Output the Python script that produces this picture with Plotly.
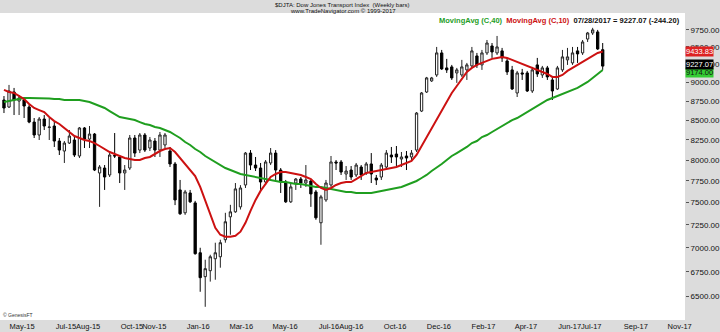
import math
import pandas as pd
import plotly.graph_objects as go

# ---------------- data (weekly bars) ----------------
first_week = "2015-04-17"
n_weeks = 120
dates = pd.date_range(first_week, periods=n_weeks, freq="W-FRI")

opens = [8764, 8671, 8871, 8751, 8764, 8671, 8475, 8310, 8514, 8405,
         8424, 8234, 8110, 8209, 8247, 8049, 8399, 8259, 8322, 7844,
         7903, 7820, 8055, 8037, 7844, 7903, 8272, 8122, 8310, 8147,
         8234, 8122, 8185, 8110, 7952, 7644, 7383, 7609, 7495, 6948,
         6700, 6761, 6885, 6906, 7087, 7338, 7394, 7450, 7702, 8085,
         7939, 7903, 7737, 7964, 8085, 7879, 7737, 7507, 7725, 7772,
         7725, 7749, 7621, 7272, 7529, 7702, 7976, 7976, 7832, 7879,
         7820, 7915, 7844, 7952, 7784, 7796, 7915, 8061, 8073, 8012,
         8049, 8037, 8122, 8618, 8871, 9022, 9104, 9414, 9202, 9216,
         9132, 9104, 9174, 9230, 9371, 9244, 9414, 9514, 9414, 9443,
         9300, 9174, 8858, 9132, 9132, 8885, 9244, 9104, 9202, 9035,
         8912, 9174, 9315, 9272, 9443, 9414, 9615, 9704, 9719, 9460]
highs = [8817, 8967, 8926, 8830, 8804, 8700, 8527, 8540, 8566, 8527,
         8475, 8272, 8234, 8373, 8310, 8411, 8411, 8424, 8335, 7939,
         7939, 8098, 8335, 8061, 7939, 8310, 8310, 8335, 8335, 8285,
         8272, 8348, 8335, 8160, 7976, 7761, 7644, 7644, 7518, 7001,
         6875, 6927, 7055, 7087, 7383, 7473, 7725, 7700, 8098, 8122,
         8037, 7964, 8000, 8147, 8122, 7903, 7761, 7725, 7784, 7796,
         7939, 7761, 7644, 7587, 7761, 8049, 8000, 8000, 7927, 7927,
         7964, 7939, 7976, 8085, 7820, 7964, 8122, 8160, 8172, 8098,
         8110, 8122, 8605, 8871, 9077, 9077, 9500, 9457, 9329, 9244,
         9202, 9315, 9272, 9500, 9414, 9457, 9601, 9557, 9660, 9486,
         9343, 9230, 9160, 9188, 9160, 9216, 9343, 9230, 9230, 9077,
         9230, 9457, 9486, 9500, 9500, 9601, 9719, 9780, 9749, 9557]
lows = [8592, 8658, 8566, 8566, 8527, 8460, 8272, 8247, 8373, 8247,
        8160, 8061, 7964, 8197, 8037, 8024, 8147, 8147, 7867, 7450,
        7644, 7796, 8024, 7725, 7644, 7879, 8037, 8085, 8098, 8110,
        8037, 8037, 8147, 7915, 7470, 7360, 7360, 7495, 6928, 6548,
        6400, 6650, 6669, 6792, 7055, 7141, 7383, 7420, 7667, 7879,
        7867, 7644, 7702, 7939, 7761, 7609, 7495, 7495, 7644, 7667,
        7679, 7450, 7305, 7033, 7507, 7679, 7879, 7820, 7761, 7761,
        7796, 7761, 7820, 7725, 7702, 7761, 7903, 7964, 7915, 7915,
        7879, 8000, 8098, 8605, 8858, 9008, 9077, 9174, 9132, 9035,
        8995, 9077, 9035, 9202, 9202, 9174, 9385, 9343, 9385, 9286,
        9104, 8899, 8804, 9035, 8871, 8858, 9077, 9063, 9035, 8764,
        8899, 9146, 9244, 9244, 9272, 9385, 9572, 9675, 9457, 9174]
closes = [8658, 8885, 8764, 8791, 8684, 8475, 8310, 8514, 8424, 8411,
          8234, 8122, 8209, 8297, 8061, 8399, 8259, 8322, 7879, 7915,
          7796, 8061, 8049, 7844, 7879, 8272, 8085, 8310, 8122, 8247,
          8122, 8310, 8310, 7952, 7529, 7372, 7621, 7507, 6938, 6690,
          6782, 6906, 6948, 7055, 7283, 7394, 7656, 7667, 8085, 7939,
          7903, 7737, 7976, 8085, 7879, 7737, 7507, 7679, 7772, 7725,
          7761, 7598, 7327, 7564, 7725, 7976, 7964, 7855, 7867, 7796,
          7939, 7820, 7952, 7832, 7761, 7939, 8085, 8037, 8037, 8037,
          8024, 8085, 8592, 8858, 9063, 9063, 9414, 9188, 9174, 9063,
          9174, 9216, 9244, 9443, 9244, 9414, 9557, 9428, 9500, 9343,
          9146, 8912, 9132, 9118, 8885, 9174, 9118, 9202, 9077, 8885,
          9202, 9357, 9357, 9414, 9400, 9572, 9704, 9749, 9471.27, 9227.07]

ma10 = [8899, 8871, 8858, 8817, 8777, 8711, 8658, 8631, 8605, 8540,
        8488, 8450, 8399, 8348, 8297, 8272, 8247, 8234, 8209, 8172,
        8135, 8098, 8073, 8049, 8024, 8012, 8000, 8000, 8024, 8037,
        8073, 8110, 8135, 8147, 8098, 8024, 7952, 7879, 7808, 7679,
        7529, 7372, 7217, 7141, 7119, 7119, 7130, 7174, 7272, 7405,
        7529, 7633, 7714, 7796, 7832, 7855, 7855, 7844, 7832, 7820,
        7796, 7772, 7714, 7667, 7644, 7667, 7702, 7725, 7737, 7737,
        7772, 7808, 7844, 7855, 7867, 7879, 7891, 7903, 7915, 7939,
        7964, 7988, 8061, 8172, 8272, 8386, 8501, 8618, 8737, 8858,
        8953, 9049, 9146, 9202, 9244, 9272, 9300, 9329, 9343, 9357,
        9343, 9315, 9286, 9258, 9230, 9202, 9174, 9146, 9118, 9077,
        9077, 9104, 9160, 9202, 9244, 9286, 9329, 9371, 9414, 9433.83]
ma40 = [8737, 8751, 8764, 8777, 8791, 8791, 8791, 8791, 8791, 8784,
        8777, 8777, 8764, 8764, 8764, 8764, 8751, 8737, 8711, 8684,
        8658, 8618, 8579, 8540, 8527, 8514, 8501, 8475, 8450, 8437,
        8411, 8399, 8373, 8348, 8310, 8272, 8222, 8185, 8135, 8098,
        8049, 8012, 7976, 7939, 7903, 7879, 7855, 7832, 7820, 7808,
        7796, 7784, 7772, 7761, 7749, 7737, 7737, 7725, 7714, 7714,
        7702, 7690, 7679, 7679, 7667, 7656, 7644, 7633, 7621, 7621,
        7609, 7609, 7609, 7609, 7621, 7633, 7644, 7656, 7667, 7679,
        7702, 7725, 7749, 7784, 7820, 7867, 7915, 7952, 8000, 8049,
        8085, 8122, 8160, 8209, 8234, 8284, 8310, 8348, 8386, 8424,
        8462, 8501, 8527, 8566, 8605, 8644, 8684, 8724, 8764, 8791,
        8817, 8844, 8871, 8899, 8926, 8967, 9008, 9063, 9118, 9174]

y_ticks = [6500, 6750, 7000, 7250, 7500, 7750, 8000, 8250, 8500, 8750,
           9000, 9250, 9500, 9750]
month_ticks = ["2015-05-01", "2015-07-01", "2015-08-01", "2015-10-01", "2015-11-01",
               "2016-01-01", "2016-03-01", "2016-05-01", "2016-07-01", "2016-08-01",
               "2016-10-01", "2016-12-01", "2017-02-01", "2017-04-01", "2017-06-01",
               "2017-07-01", "2017-09-01", "2017-11-01"]
month_labels = ["May-15", "Jul-15", "Aug-15", "Oct-15", "Nov-15", "Jan-16", "Mar-16",
                "May-16", "Jul-16", "Aug-16", "Oct-16", "Dec-16", "Feb-17", "Apr-17",
                "Jun-17", "Jul-17", "Sep-17", "Nov-17"]

last_close = closes[-1]
last_change = -244.20
last_date = "07/28/2017"

# ---------------- figure ----------------
GRAY = "#dcdcdc"
RED = "#cc1111"
GREEN = "#1f9e1f"

fig = go.Figure()
fig.add_trace(go.Candlestick(
    x=dates, open=opens, high=highs, low=lows, close=closes,
    increasing=dict(line=dict(color="#222222", width=1), fillcolor="#ffffff"),
    decreasing=dict(line=dict(color="#000000", width=1), fillcolor="#000000"),
    whiskerwidth=0, showlegend=False, hoverinfo="skip"))
fig.add_trace(go.Scatter(x=dates, y=ma40, mode="lines",
                         line=dict(color=GREEN, width=2), showlegend=False))
fig.add_trace(go.Scatter(x=dates, y=ma10, mode="lines",
                         line=dict(color=RED, width=2), showlegend=False))

fig.update_layout(
    width=720, height=332,
    margin=dict(l=0, r=32, t=13, b=12),
    paper_bgcolor=GRAY, plot_bgcolor="#ffffff",
    font=dict(family="Arial, Liberation Sans, sans-serif", size=8, color="#111111"),
    boxgap=0.35,
)
fig.update_xaxes(
    type="date", range=["2015-04-11 11:00", "2017-11-19 12:00"],
    rangeslider=dict(visible=False),
    tickvals=month_ticks, ticktext=month_labels, ticks="", ticklabelshift=8,
    tickangle=0, ticklabelstandoff=0,
    showgrid=False, zeroline=False, showline=False,
    tickfont=dict(size=7.5, color="#111111"),
)
fig.update_yaxes(
    type="log", side="right",
    range=[math.log10(6273), math.log10(10003)],
    tickvals=y_ticks, tickformat=".2f", ticks="outside", ticklen=3,
    tickcolor="#555555", showgrid=False, zeroline=False, showline=False,
    tickfont=dict(size=8, color="#111111"),
)

ann = []
ann.append(dict(text="$DJTA: Dow Jones Transport Index  (Weekly bars)",
                xref="paper", yref="paper", x=0.5, y=1, yshift=13,
                xanchor="center", yanchor="top", showarrow=False,
                font=dict(size=6, color="#111111")))
ann.append(dict(text="www.TradeNavigator.com © 1999-2017",
                xref="paper", yref="paper", x=0.5, y=1, yshift=7,
                xanchor="center", yanchor="top", showarrow=False,
                font=dict(size=6, color="#111111")))
legend_parts = ("<span style='color:%s'>MovingAvg (C,40)</span>  "
                "<span style='color:%s'>MovingAvg (C,10)</span>  "
                "<span style='color:#111111'>%s = %.2f (%.2f)</span>"
                % (GREEN, RED, last_date, last_close, last_change))
ann.append(dict(text="<b>" + legend_parts + "</b>", xref="paper", yref="paper",
                x=0.996, y=1, yshift=-1, xanchor="right", yanchor="top",
                showarrow=False, font=dict(size=7.5)))
ann.append(dict(text="© GenesisFT", xref="paper", yref="paper", x=0.002, y=0,
                xanchor="left", yanchor="bottom", showarrow=False,
                font=dict(size=5, color="#333333")))
# value boxes on the price axis
for val, bg, fg, shift in [(ma40[-1], "#33cc33", "#111111", -3),
                           (last_close, "#000000", "#ffffff", 2),
                           (ma10[-1], "#dd2222", "#ffffff", 0)]:
    ann.append(dict(text="%.2f" % val, xref="paper", yref="y", x=1,
                    y=math.log10(val), yshift=shift, xanchor="left", yanchor="middle",
                    showarrow=False, bgcolor=bg, borderpad=0,
                    font=dict(size=7.5, color=fg)))
fig.update_layout(annotations=ann)

fig.write_html("out.html")
